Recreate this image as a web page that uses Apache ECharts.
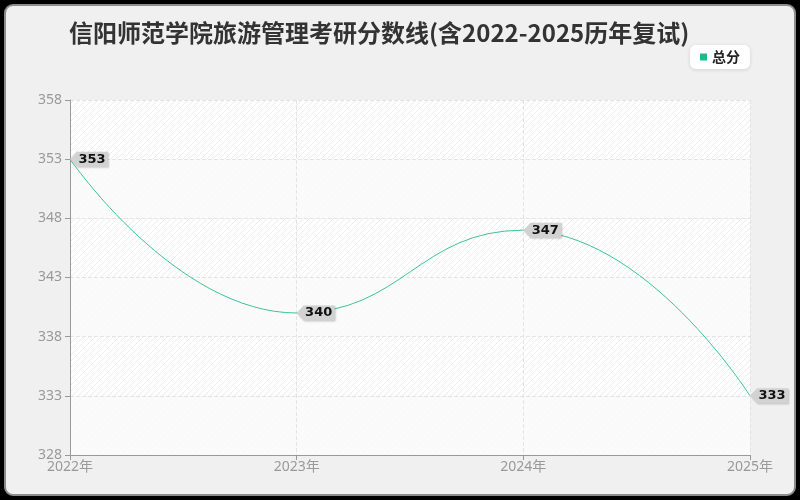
<!DOCTYPE html>
<html>
<head>
<meta charset="utf-8">
<title>信阳师范学院旅游管理考研分数线</title>
<script src="https://cdn.jsdelivr.net/npm/echarts@6/dist/echarts.min.js"></script>
<style>
  html, body { margin: 0; padding: 0; background: #000; }
  #frame {
    position: absolute; left: 4px; top: 4px; width: 788px; height: 488px;
    border: 2px solid #8c8c8c; border-radius: 9px; background: #f0f0f0;
  }
  #chart { position: absolute; left: 0; top: 0; width: 800px; height: 500px; }
</style>
</head>
<body>
<div id="frame"></div>
<div id="chart"></div>
<script>
const years = ["2022年", "2023年", "2024年", "2025年"];
const totalScores = [353, 340, 347, 333];
const yTicks = { min: 328, max: 358, step: 5 };

const chartElement = document.getElementById("chart");

function hatchPattern() {
  const c = document.createElement("canvas");
  c.width = 6;
  c.height = 6;
  const ctx = c.getContext("2d");
  ctx.fillStyle = "#ffffff";
  ctx.fillRect(0, 0, 6, 6);
  ctx.strokeStyle = "#ececec";
  ctx.lineWidth = 1;
  ctx.beginPath();
  ctx.moveTo(-1, 7);
  ctx.lineTo(7, -1);
  ctx.moveTo(-1, 1);
  ctx.lineTo(1, -1);
  ctx.moveTo(5, 7);
  ctx.lineTo(7, 5);
  ctx.stroke();
  return c;
}

const tagPath = "path://M0,7.5 L7,0 L38,0 L38,15 L7,15 Z";

const markData = totalScores.map((v, i) => ({
  coord: [years[i], v],
  value: v,
}));

const chart = echarts.init(chartElement, null, { renderer: "canvas" });

chart.setOption({
  backgroundColor: "transparent",
  animation: false,
  textStyle: { fontFamily: "'Noto Sans', 'Noto Sans CJK SC', sans-serif" },
  title: {
    text: "信阳师范学院旅游管理考研分数线(含2022-2025历年复试)",
    left: 64,
    top: 16,
    textStyle: {
      fontSize: 24,
      fontWeight: "bold",
      color: "#333",
      fontFamily: "'Noto Sans CJK SC', sans-serif",
    },
  },
  legend: {
    data: ["总分"],
    right: 50,
    top: 45,
    backgroundColor: "#fff",
    borderRadius: 6,
    padding: [5, 10],
    shadowColor: "rgba(0,0,0,0.12)",
    shadowBlur: 4,
    shadowOffsetY: 1,
    itemWidth: 7,
    itemHeight: 7,
    itemGap: 6,
    icon: "rect",
    textStyle: { fontSize: 14, fontWeight: "bold", color: "#222", fontFamily: "'Noto Sans CJK SC', sans-serif" },
  },
  grid: {
    left: 70,
    right: 50,
    top: 100,
    bottom: 45,
    show: true,
    borderWidth: 0,
    backgroundColor: { image: hatchPattern(), repeat: "repeat" },
  },
  xAxis: {
    type: "category",
    data: years,
    boundaryGap: false,
    axisLine: { lineStyle: { color: "#999" } },
    axisTick: { lineStyle: { color: "#999" }, length: 5 },
    axisLabel: { color: "#999", fontSize: 14, margin: 5 },
    splitLine: { show: true, lineStyle: { color: "#e4e4e4", type: "dashed" } },
  },
  yAxis: {
    type: "value",
    min: yTicks.min,
    max: yTicks.max,
    interval: yTicks.step,
    axisLine: { show: true, lineStyle: { color: "#999" } },
    axisTick: { show: true, lineStyle: { color: "#999" }, length: 5 },
    axisLabel: { color: "#999", fontSize: 14, margin: 8 },
    splitLine: { show: true, lineStyle: { color: "#e4e4e4", type: "dashed" } },
    splitArea: { show: true, areaStyle: { color: ["rgba(250,250,250,0.85)", "rgba(255,255,255,0)"] } },
  },
  series: [
    {
      name: "总分",
      type: "line",
      smooth: true,
      showSymbol: false,
      symbol: "none",
      color: "#1fb98a",
      lineStyle: { width: 1, color: "#3cc39b" },
      data: totalScores,
      markPoint: {
        symbol: tagPath,
        symbolSize: [38, 15],
        symbolKeepAspect: false,
        symbolOffset: [19, 0],
        itemStyle: {
          color: "#d2d2d2",
          shadowColor: "rgba(0,0,0,0.2)",
          shadowBlur: 2,
          shadowOffsetX: 1,
          shadowOffsetY: 1,
        },
        label: {
          show: true,
          position: "inside",
          offset: [3, 0],
          color: "#111",
          fontSize: 13,
          fontWeight: "bold",
          fontFamily: "'DejaVu Sans', sans-serif",
          formatter: (p) => p.value,
        },
        data: markData,
      },
    },
  ],
});
</script>
</body>
</html>
